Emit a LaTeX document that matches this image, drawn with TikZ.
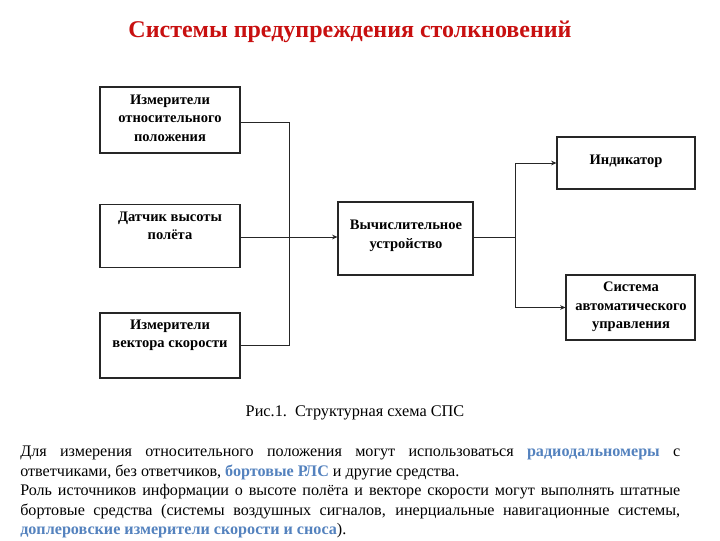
\documentclass[tikz,border=0pt]{standalone}
\usepackage{fontspec}
\setmainfont{Liberation Serif}
\usetikzlibrary{arrows.meta,calc}
\definecolor{titlered}{RGB}{200,16,16}
\definecolor{linkblue}{RGB}{84,130,190}
\begin{document}
\begin{tikzpicture}[x=0.75pt,y=-0.75pt,
  box/.style={draw=black!85,line width=0.8pt,inner sep=0pt},
  btxt/.style={font=\fontsize{10.9}{13.8}\selectfont\bfseries,align=center,inner sep=0pt},
  conn/.style={line width=0.7pt,draw=black!85},
  arr/.style={conn,-{Stealth[length=4pt,width=3.5pt]}}]
\useasboundingbox (0,0) rectangle (720,540);
% title
\node[font=\fontsize{18}{21}\selectfont\bfseries,text=titlered,inner sep=0pt] (title) at (350,32) {Системы предупреждения столкновений};
% boxes
\node[box,minimum width=105pt,minimum height=49.5pt] (b1) at (170,120) {};
\node[box,minimum width=105pt,minimum height=47.25pt] (b2) at (170,236) {};
\node[box,minimum width=105pt,minimum height=48.75pt] (b3) at (170,345.5) {};
\node[box,minimum width=101.25pt,minimum height=54.75pt] (comp) at (405.5,238.5) {};
\node[box,minimum width=103.5pt,minimum height=39pt] (ind) at (626,163) {};
\node[box,minimum width=96.75pt,minimum height=48.75pt] (sau) at (630.5,307.5) {};
% texts
\node[btxt] (t1) at (170,118) {Измерители\\относительного\\положения};
\node[btxt] (t2) at (170,226) {Датчик высоты\\полёта};
\node[btxt] (t3) at (170,335) {Измерители\\вектора скорости};
\node[btxt] (t4) at (406,236) {Вычислительное\\устройство};
\node[btxt] (t5) at (626,161) {Индикатор};
\node[btxt] (t6) at (631,307) {Система\\автоматического\\управления};
% connectors
\coordinate (bus) at (289,0);
\coordinate (split) at (515,0);
\draw[conn] (b1.east |- 0,122) -- (bus |- 0,122) -- (bus |- b3.east) -- (b3.east);
\draw[arr] (b2.east |- 0,237) -- (comp.west |- 0,237);
\draw[conn] (comp.east |- 0,237) -- (split |- 0,237);
\draw[arr] (split |- ind.west) |- (ind.west);
\draw[conn] (split |- ind.west) -- (split |- sau.west);
\draw[arr] (split |- sau.west) -- (sau.west);
% caption
\node[font=\fontsize{12.2}{14}\selectfont,inner sep=0pt] (cap) at (355,413) {Рис.1.\ \ Структурная схема СПС};
% paragraph
\node[anchor=north west,inner sep=0pt,text width=495pt,align=justify,
  font=\fontsize{12.1}{14.6}\selectfont] (para) at (20,446) {%
\parindent=0pt\tolerance=9999\emergencystretch=20pt
Для измерения относительного положения могут использоваться {\color{linkblue}\bfseries радиодальномеры} с\linebreak
ответчиками, без ответчиков, {\color{linkblue}\bfseries бортовые РЛС} и другие средства.\par
Роль источников информации о высоте полёта и векторе скорости могут выполнять штатные\linebreak
бортовые средства (системы воздушных сигналов, инерциальные навигационные системы,\linebreak
{\color{linkblue}\bfseries доплеровские измерители скорости и сноса}).};
\end{tikzpicture}
\end{document}
